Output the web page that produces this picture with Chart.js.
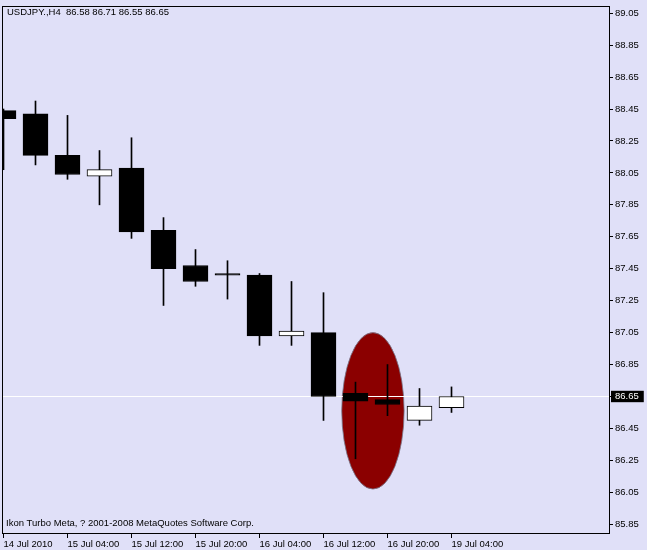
<!DOCTYPE html>
<html>
<head>
<meta charset="utf-8">
<title>USDJPY H4</title>
<script src="https://cdn.jsdelivr.net/npm/chart.js@4.4.1/dist/chart.umd.min.js"></script>
<style>
  html, body { margin: 0; padding: 0; background: #e0e0f8; }
  #wrap { width: 647px; height: 550px; position: relative; }
</style>
</head>
<body>
<div id="wrap"><canvas id="priceChart"></canvas></div>
<script>
// H4 bars, left to right
const candleIdx = [0, 1, 2, 3, 4, 5, 6, 7, 8, 9, 10, 11, 12, 13, 14];
const opens  = [88.44, 88.42, 88.16, 88.03, 88.08, 87.69, 87.47, 87.42, 87.41, 87.03, 87.05, 86.67, 86.63, 86.50, 86.58];
const highs  = [88.45, 88.50, 88.41, 88.19, 88.27, 87.77, 87.57, 87.50, 87.42, 87.37, 87.30, 86.74, 86.85, 86.70, 86.71];
const lows   = [88.07, 88.10, 88.01, 87.85, 87.64, 87.22, 87.34, 87.26, 86.97, 86.97, 86.50, 86.26, 86.53, 86.47, 86.55];
const closes = [88.39, 88.16, 88.04, 88.07, 87.68, 87.45, 87.37, 87.41, 87.03, 87.06, 86.65, 86.62, 86.60, 86.59, 86.65];

const xTickIdx = [0, 2, 4, 6, 8, 10, 12, 14];
const xTickLabels = ['14 Jul 2010', '15 Jul 04:00', '15 Jul 12:00', '15 Jul 20:00',
                     '16 Jul 04:00', '16 Jul 12:00', '16 Jul 20:00', '19 Jul 04:00'];
const yTicks = [85.85, 86.05, 86.25, 86.45, 86.65, 86.85, 87.05, 87.25, 87.45,
                87.65, 87.85, 88.05, 88.25, 88.45, 88.65, 88.85, 89.05];
const lastPrice = 86.65;

// red highlight, in bar index / price units
const markX = [10.57, 12.52];
const markY = [86.07, 87.05];

const titleText = 'USDJPY.,H4  86.58 86.71 86.55 86.65';
const footerText = 'Ikon Turbo Meta, ? 2001-2008 MetaQuotes Software Corp.';

const BG = '#e0e0f8';
const FONT = '"Liberation Sans", Arial, sans-serif';

Chart.defaults.font.family = FONT;
Chart.defaults.font.size = 9.5;
Chart.defaults.color = '#000';

const isLast = v => Math.abs(v - lastPrice) < 1e-6;

const bodyData = candleIdx.map(i => ({ x: i, y: [opens[i], closes[i]] }));
const wickData = candleIdx.map(i => ({ x: i, y: [lows[i], highs[i]] }));
const bodyFill = candleIdx.map(i => closes[i] > opens[i] ? '#ffffff' : '#000000');

const chartDecor = {
    id: 'chartDecor',
    beforeDraw(chart) {
        const ctx = chart.ctx;
        ctx.save();
        ctx.fillStyle = BG;
        ctx.fillRect(0, 0, chart.width, chart.height);

        // highlight ellipse behind the bars
        const xs = chart.scales.x, ys = chart.scales.y;
        const x0 = xs.getPixelForValue(markX[0]), x1 = xs.getPixelForValue(markX[1]);
        const y0 = ys.getPixelForValue(markY[1]), y1 = ys.getPixelForValue(markY[0]);
        ctx.beginPath();
        ctx.ellipse((x0 + x1) / 2, (y0 + y1) / 2, (x1 - x0) / 2, (y1 - y0) / 2, 0, 0, Math.PI * 2);
        ctx.fillStyle = '#8b0000';
        ctx.fill();
        ctx.strokeStyle = 'rgba(120,120,140,0.8)';
        ctx.lineWidth = 1;
        ctx.stroke();
        ctx.restore();
    },
    afterDraw(chart) {
        const ctx = chart.ctx;
        const a = chart.chartArea;
        ctx.save();
        ctx.strokeStyle = '#000';
        ctx.lineWidth = 1;
        ctx.strokeRect(a.left + 0.5, a.top + 0.5, a.right - a.left - 1, a.bottom - a.top - 1);

        ctx.fillStyle = '#000';
        ctx.font = '9.5px ' + FONT;
        ctx.textBaseline = 'alphabetic';
        ctx.textAlign = 'left';
        ctx.fillText(titleText, 7, 15);
        ctx.fillText(footerText, 6, 526);
        ctx.restore();
    }
};

const fixBox = (w, h) => scale => {
    if (w) scale.width = w;
    if (h) scale.height = h;
    scale.paddingTop = 0;
    scale.paddingBottom = 0;
    scale.paddingLeft = 0;
    scale.paddingRight = 0;
};

new Chart(document.getElementById('priceChart').getContext('2d'), {
    type: 'bar',
    data: {
        datasets: [{
            label: 'Body',
            data: bodyData,
            backgroundColor: bodyFill,
            borderColor: '#000',
            borderWidth: 1,
            borderSkipped: false,
            barThickness: 25,
            grouped: false,
            order: 1
        }, {
            label: 'Wick',
            data: wickData,
            backgroundColor: '#000',
            borderWidth: 0,
            barThickness: 1,
            grouped: false,
            order: 2
        }]
    },
    options: {
        responsive: true,
        maintainAspectRatio: false,
        animation: false,
        layout: { padding: { left: 2, top: 6, right: 0, bottom: 0 } },
        plugins: {
            legend: { display: false },
            tooltip: { enabled: false }
        },
        scales: {
            x: {
                type: 'linear',
                position: 'bottom',
                offset: false,
                min: -0.046875,
                max: 18.953125,
                afterBuildTicks: scale => { scale.ticks = xTickIdx.map(v => ({ value: v })); },
                afterFit: fixBox(0, 16),
                border: { display: false },
                grid: { offset: false, drawOnChartArea: false, tickLength: 4, tickColor: '#000' },
                ticks: {
                    autoSkip: false,
                    maxRotation: 0,
                    align: 'start',
                    padding: 1,
                    callback: (v, i) => xTickLabels[i]
                }
            },
            y: {
                type: 'linear',
                position: 'right',
                min: 85.789,
                max: 89.095,
                afterBuildTicks: scale => { scale.ticks = yTicks.map(v => ({ value: v })); },
                afterFit: fixBox(37, 0),
                border: { display: false },
                grid: {
                    drawOnChartArea: true,
                    color: c => (c.tick && isLast(c.tick.value)) ? '#ffffff' : 'rgba(0,0,0,0)',
                    tickColor: '#000',
                    tickLength: 3
                },
                ticks: {
                    padding: 2,
                    callback: v => v.toFixed(2),
                    color: c => isLast(c.tick.value) ? '#ffffff' : '#000000',
                    showLabelBackdrop: c => isLast(c.tick.value),
                    backdropColor: '#000',
                    backdropPadding: { left: 4, right: 5, top: 0, bottom: 0 }
                }
            }
        }
    },
    plugins: [chartDecor]
});
</script>
</body>
</html>
